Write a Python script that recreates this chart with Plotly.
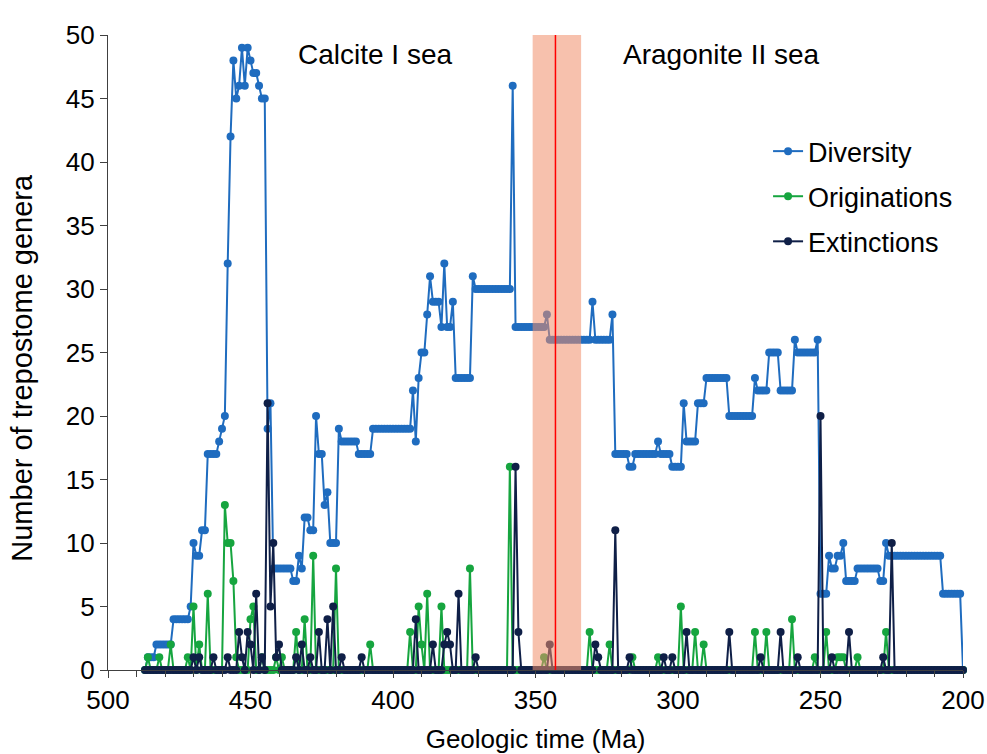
import plotly.graph_objects as go

# Time axis (Ma), one sample per million years, oldest first
ma = list(range(487, 199, -1))

# Diversity, 487 Ma -> 200 Ma
diversity = [
    0, 1, 1, 1, 2, 2, 2, 2, 2, 2,          # 487-478
    4, 4, 4, 4, 4, 4, 5, 10, 9, 9,         # 477-468
    11, 11, 17, 17, 17, 17, 18, 19, 20, 32,  # 467-458
    42, 48, 45, 46, 49, 46, 49, 48, 47, 47,  # 457-448
    46, 45, 45, 19, 21, 8, 8, 8, 8, 8,     # 447-438
    8, 8, 7, 7, 9, 8, 12, 12, 11, 11,      # 437-428
    20, 17, 17, 13, 14, 10, 10, 10, 19, 18,  # 427-418
    18, 18, 18, 18, 18, 17, 17, 17, 17, 17,  # 417-408
    19, 19, 19, 19, 19, 19, 19, 19, 19, 19,  # 407-398
    19, 19, 19, 19, 22, 18, 23, 25, 25, 28,  # 397-388
    31, 29, 29, 29, 27, 32, 27, 27, 29, 23,  # 387-378
    23, 23, 23, 23, 23, 31, 30, 30, 30, 30,  # 377-368
    30, 30, 30, 30, 30, 30, 30, 30, 30, 46,  # 367-358
    27, 27, 27, 27, 27, 27, 27, 27, 27, 27,  # 357-348
    27, 28, 26, 26, 26, 26, 26, 26, 26, 26,  # 347-338
    26, 26, 26, 26, 26, 26, 26, 29, 26, 26,  # 337-328
    26, 26, 26, 26, 28, 17, 17, 17, 17, 17,  # 327-318
    16, 16, 17, 17, 17, 17, 17, 17, 17, 17,  # 317-308
    18, 17, 17, 17, 17, 16, 16, 16, 16, 21,  # 307-298
    18, 18, 18, 18, 21, 21, 21, 23, 23, 23,  # 297-288
    23, 23, 23, 23, 23, 20, 20, 20, 20, 20,  # 287-278
    20, 20, 20, 20, 23, 22, 22, 22, 22, 25,  # 277-268
    25, 25, 25, 22, 22, 22, 22, 22, 26, 25,  # 267-258
    25, 25, 25, 25, 25, 25, 26, 6, 6, 6,   # 257-248
    9, 8, 8, 9, 9, 10, 7, 7, 7, 7,         # 247-238
    8, 8, 8, 8, 8, 8, 8, 8, 7, 7,          # 237-228
    10, 9, 9, 9, 9, 9, 9, 9, 9, 9,         # 227-218
    9, 9, 9, 9, 9, 9, 9, 9, 9, 9,          # 217-208
    6, 6, 6, 6, 6, 6, 6, 0,                # 207-200
]

# Originations and extinctions: non-zero counts (all other times are 0)
originations_nonzero = {
    486: 1, 482: 1, 478: 2, 472: 1, 470: 5, 468: 2, 465: 6, 459: 13, 458: 10,
    457: 10, 456: 7, 455: 1, 450: 4, 449: 5, 446: 1, 441: 1, 439: 1, 434: 3,
    431: 4, 428: 9, 420: 8, 408: 2, 394: 3, 391: 5, 390: 2, 388: 6, 383: 5,
    373: 8, 359: 16, 347: 1, 331: 3, 324: 2, 316: 1, 307: 1, 299: 5, 294: 3,
    291: 2, 273: 3, 269: 3, 260: 4, 252: 1, 248: 3, 244: 1, 243: 1, 242: 1,
    237: 1, 227: 3,
}
extinctions_nonzero = {
    470: 1, 468: 1, 463: 1, 458: 1, 454: 3, 453: 1, 451: 3, 450: 2, 448: 6,
    446: 1, 444: 21, 443: 5, 442: 10, 441: 1, 440: 2, 434: 1, 432: 2, 429: 1,
    426: 3, 423: 4, 421: 5, 418: 1, 411: 1, 392: 4, 386: 2, 382: 2, 381: 3,
    380: 2, 377: 6, 371: 1, 357: 16, 356: 3, 345: 2, 329: 2, 328: 1, 322: 11,
    317: 1, 305: 1, 302: 1, 297: 3, 282: 3, 271: 1, 264: 3, 258: 1, 250: 20,
    246: 1, 240: 3, 228: 1, 225: 10,
}
originations = [originations_nonzero.get(t, 0) for t in ma]
extinctions = [extinctions_nonzero.get(t, 0) for t in ma]

band_ma = (351, 334)
event_ma = 343

FONT = "Liberation Sans, Arial, sans-serif"
C_DIV = "#1f6cbf"
C_ORI = "#16a53f"
C_EXT = "#0f1f47"

fig = go.Figure()
for name, vals, col in [("Diversity", diversity, C_DIV),
                        ("Originations", originations, C_ORI),
                        ("Extinctions", extinctions, C_EXT)]:
    fig.add_trace(go.Scatter(
        x=ma, y=vals, mode="lines+markers", name=name, legendgroup=name,
        line=dict(color=col, width=2), marker=dict(color=col, size=8),
        cliponaxis=False,
    ))

fig.add_vrect(x0=band_ma[0], x1=band_ma[1], fillcolor="rgb(240,142,106)",
              opacity=0.55, layer="above", line_width=0)
fig.add_vline(x=event_ma, line_color="#ff0000", line_width=1.5, layer="above")

for txt, xp in [("Calcite I sea", 0.312), ("Aragonite II sea", 0.718)]:
    fig.add_annotation(text=txt, xref="paper", yref="paper",
                       x=xp, y=0.969, xanchor="center", yanchor="middle",
                       showarrow=False,
                       font=dict(family=FONT, size=28, color="black"))

# y-axis title, placed as rotated text so it sits where the reference has it
fig.add_annotation(text="Number of trepostome genera", xref="paper", yref="paper",
                   x=-0.1006, y=0.476, xanchor="center", yanchor="middle",
                   textangle=-90, showarrow=False,
                   font=dict(family=FONT, size=29, color="black"))

axis_common = dict(showline=True, linecolor="#404040", linewidth=1.3,
                   ticks="outside", ticklen=7, tickcolor="#404040",
                   showgrid=False, zeroline=False, automargin=False,
                   ticklabeloverflow="allow",
                   tickfont=dict(family=FONT, size=26, color="black"))

fig.update_xaxes(range=[500, 200], dtick=50, tick0=200,
                 minor=dict(dtick=10, ticks="outside", ticklen=6, tickcolor="#404040"),
                 title=dict(text="Geologic time (Ma)", standoff=18,
                            font=dict(family=FONT, size=26, color="black")),
                 **axis_common)
fig.update_yaxes(range=[0, 50], dtick=5, **axis_common)

fig.update_layout(
    width=987, height=754,
    margin=dict(l=108, r=24, t=35, b=84),
    plot_bgcolor="white", paper_bgcolor="white",
    font=dict(family=FONT, color="black"),
    legend=dict(x=0.772, y=0.855, xanchor="left", yanchor="top",
                font=dict(family=FONT, size=27, color="black"),
                bgcolor="rgba(0,0,0,0)", traceorder="grouped",
                tracegroupgap=7, itemwidth=30),
    showlegend=True,
)

# remove the page's default body margin so the figure fills the window exactly
fig.write_html("out.html", config={"displayModeBar": False},
               post_script="document.body.style.margin='0';")
